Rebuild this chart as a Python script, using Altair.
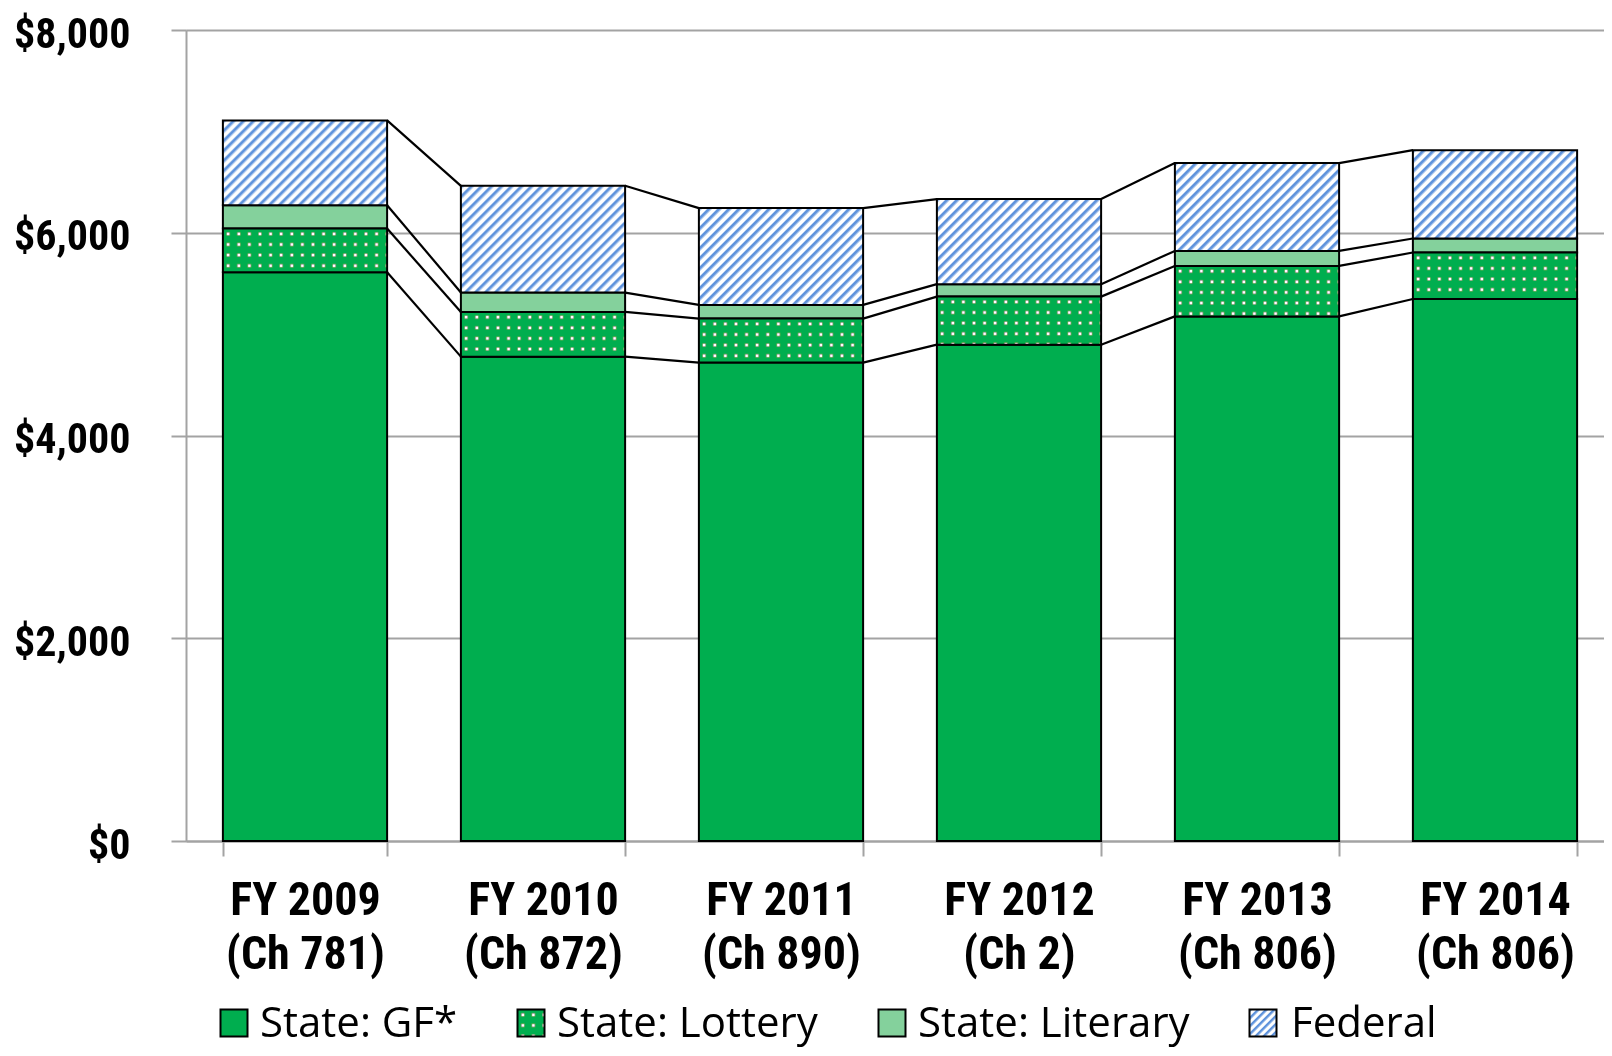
import math
import altair as alt
import pandas as pd

# ---- data (millions of $) ----
years = ["FY 2009 (Ch 781)", "FY 2010 (Ch 872)", "FY 2011 (Ch 890)",
         "FY 2012 (Ch 2)", "FY 2013 (Ch 806)", "FY 2014 (Ch 806)"]
series = ["State: GF*", "State: Lottery", "State: Literary", "Federal"]
gf = [5611, 4778, 4719, 4896, 5175, 5347]
lottery = [430, 441, 434, 474, 498, 458]
literary = [231, 191, 135, 123, 148, 138]
federal = [836, 1053, 955, 839, 866, 872]
y_ticks = [0, 2000, 4000, 6000, 8000]

# ---- layout / style ----
PLOT_W, PLOT_H = 1418, 811
X_RANGE = 1428          # band range may run slightly past the visible plot edge
Y_MAX = 8000
P_INNER, P_OUTER = 0.31, 0.155
GREEN = "#00ae4f"
LITERARY_C = "#84d19c"
BLUE = "#5f93dc"
GRAY = "#a3a3a3"
NARROW = "Liberation Sans Narrow, Arial Narrow, Roboto Condensed, Liberation Sans, sans-serif"
LEG_FONT = "Open Sans"
DOT_PERIOD = 10.6

values_by_series = [gf, lottery, literary, federal]

rows = []
for i, yr in enumerate(years):
    lo = 0
    for s, vals in zip(series, values_by_series):
        hi = lo + vals[i]
        rows.append({"year": yr, "series": s, "lo": lo, "hi": hi})
        lo = hi
df = pd.DataFrame(rows)

lines = []
for i in range(len(years) - 1):
    c0 = 0
    c1 = 0
    for vals in values_by_series:
        c0 += vals[i]
        c1 += vals[i + 1]
        lines.append({"year": years[i], "next": years[i + 1], "v": c0, "vn": c1})
ldf = pd.DataFrame(lines)

xscale = alt.Scale(domain=years, range=[0, X_RANGE], paddingInner=P_INNER, paddingOuter=P_OUTER)
yscale = alt.Scale(domain=[0, Y_MAX], nice=False, zero=True)

xaxis = alt.Axis(
    title=None, labelAngle=0, tickBand="extent", tickSize=15, tickWidth=2,
    tickColor=GRAY, domainColor=GRAY, domainWidth=2, grid=False,
    labelFont=NARROW, labelFontWeight="bold", labelFontSize=46, labelColor="black",
    labelPadding=22, labelLineHeight=54, labelBaseline="top",
    labelExpr="[slice(datum.label, 0, 7), slice(datum.label, 8)]",
)
yaxis = alt.Axis(
    title=None, values=y_ticks, format="$,.0f", tickSize=15, tickWidth=2,
    tickColor=GRAY, domainColor=GRAY, domainWidth=2, grid=True, gridColor=GRAY,
    gridWidth=2, labelFont=NARROW, labelFontWeight="bold", labelFontSize=42,
    labelColor="black", labelPadding=41, labelOffset=4,
)

def xenc():
    return alt.X("year:N", sort=years, scale=xscale, axis=xaxis)

def yenc(field):
    return alt.Y(field, scale=yscale, axis=yaxis)

base = alt.Chart(df)

def stripes(W, H, period=10.0, c1=BLUE, c2="#ffffff"):
    """diagonal hatch for the Federal segments"""
    r = H / W
    a = (1 + r) / (1 + r * r)
    b = r * a
    n = (W + H) / period
    stops = []
    k = 0
    while k / n < 1:
        for frac, col in ((0.0, c1), (0.18, c1), (0.5, c2), (0.82, c2)):
            stops.append({"offset": min((k + frac) / n, 1.0), "color": col})
        k += 1
    stops.append({"offset": 1.0, "color": c1})
    return {"gradient": "linear", "x1": 0, "y1": 0, "x2": a, "y2": b, "stops": stops}

def dot_lines(length, vertical):
    """black with narrow white bands; two of them multiplied give a dot grid"""
    n = max(length / DOT_PERIOD, 1.0)
    stops = []
    for k in range(int(math.ceil(n))):
        for frac, col in ((0.0, "#000000"), (0.27, "#000000"), (0.43, "#ffffff"),
                          (0.57, "#ffffff"), (0.73, "#000000")):
            stops.append({"offset": min((k + frac) / n, 1.0), "color": col})
    stops.append({"offset": 1.0, "color": "#000000"})
    if vertical:
        return {"gradient": "linear", "x1": 0, "y1": 0, "x2": 0, "y2": 1, "stops": stops}
    return {"gradient": "linear", "x1": 0, "y1": 0, "x2": 1, "y2": 0, "stops": stops}

def dotted_layers(chart, W, H, enc):
    """green with white dots: rows * columns (multiply), then green (lighten), then outline"""
    return [
        chart.mark_bar(fill=dot_lines(H, True), strokeWidth=0).encode(**enc),
        chart.mark_bar(fill=dot_lines(W, False), strokeWidth=0, blend="multiply").encode(**enc),
        chart.mark_bar(fill=GREEN, strokeWidth=0, blend="lighten").encode(**enc),
        chart.mark_bar(fillOpacity=0, stroke="black", strokeWidth=2).encode(**enc),
    ]

step = X_RANGE / len(years)
bar_w = step * (1 - P_INNER)
bar_enc = dict(x=xenc(), y=yenc("lo:Q"), y2="hi:Q")

layers = []
for s, col in ((series[0], GREEN), (series[2], LITERARY_C)):
    layers.append(
        base.transform_filter(alt.datum.series == s)
        .mark_bar(fill=col, stroke="black", strokeWidth=2)
        .encode(**bar_enc)
    )

for i, yr in enumerate(years):
    h = lottery[i] * PLOT_H / Y_MAX
    sub = base.transform_filter((alt.datum.series == series[1]) & (alt.datum.year == yr))
    layers.extend(dotted_layers(sub, bar_w, h, bar_enc))

for i, yr in enumerate(years):
    h = federal[i] * PLOT_H / Y_MAX
    layers.append(
        base.transform_filter((alt.datum.series == series[3]) & (alt.datum.year == yr))
        .mark_bar(fill=stripes(bar_w, h), stroke="black", strokeWidth=2)
        .encode(**bar_enc)
    )

layers.append(
    alt.Chart(ldf).mark_rule(color="black", strokeWidth=2.2).encode(
        x=alt.X("year:N", sort=years, scale=xscale, axis=xaxis, bandPosition=1),
        x2=alt.X2("next:N", bandPosition=0),
        y=yenc("v:Q"),
        y2="vn:Q",
    )
)

# ---- legend (drawn below the axis) ----
leg_sq = [48, 345, 706, 1077]
leg_tx = [74, 371, 732, 1105]
SQ = 27
LEG_CY = 993
for j, (name, cx, tx) in enumerate(zip(series, leg_sq, leg_tx)):
    ldata = alt.Data(values=[{"label": name}])
    lch = alt.Chart(ldata)
    sq_enc = dict(
        x=alt.value(cx - SQ / 2), x2=alt.value(cx + SQ / 2),
        y=alt.value(LEG_CY - SQ / 2), y2=alt.value(LEG_CY + SQ / 2),
    )
    if j == 1:
        layers.append(lch.mark_rect(fill=dot_lines(SQ, True), strokeWidth=0).encode(**sq_enc))
        layers.append(lch.mark_rect(fill=dot_lines(SQ, False), strokeWidth=0, blend="multiply").encode(**sq_enc))
        layers.append(lch.mark_rect(fill=GREEN, strokeWidth=0, blend="lighten").encode(**sq_enc))
        layers.append(lch.mark_rect(fillOpacity=0, stroke="black", strokeWidth=2).encode(**sq_enc))
    else:
        fill = {0: GREEN, 2: LITERARY_C, 3: stripes(SQ, SQ, period=8.0)}[j]
        layers.append(lch.mark_rect(fill=fill, stroke="black", strokeWidth=2).encode(**sq_enc))
    layers.append(
        lch.mark_text(
            font=LEG_FONT, fontSize=42, align="left", baseline="alphabetic", color="black"
        ).encode(x=alt.value(tx), y=alt.value(LEG_CY + SQ / 2), text="label:N")
    )

chart = alt.layer(*layers).properties(
    width=PLOT_W, height=PLOT_H,
    autosize=alt.AutoSizeParams(type="none"),
    padding={"left": 178, "top": 22, "right": 0, "bottom": 207},
).configure_view(stroke="transparent").configure(background="white")

chart.save("out.html", embed_options={"renderer": "svg", "actions": False})
